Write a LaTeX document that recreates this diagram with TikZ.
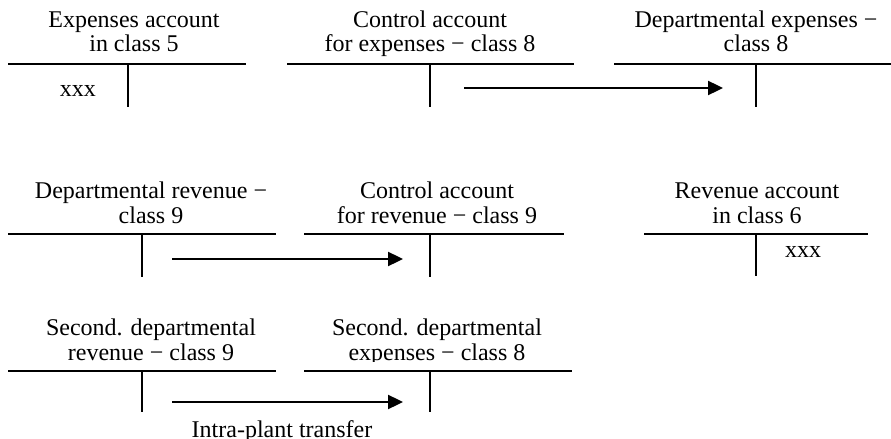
\documentclass[tikz,border=0pt]{standalone}
\usepackage{fontspec}
\setmainfont{Liberation Serif}
\usetikzlibrary{arrows.meta}
\begin{document}
\begin{tikzpicture}[x=0.5pt,y=-0.5pt,
  acc/.style={line width=0.95pt},
  flow/.style={line width=1.2pt,-{Triangle[length=7.5pt,width=7pt]}},
  lbl/.style={align=center,inner sep=0pt,anchor=base,font=\fontsize{12}{12.5}\selectfont},
  amt/.style={inner sep=0pt,anchor=base,font=\fontsize{12}{12.5}\selectfont}]
\useasboundingbox (0,0) rectangle (891,439);
% Row 1
\draw[acc] (8,64) -- (246,64); \draw[acc] (128,64) -- (128,107);
\node[lbl] (l1) at (134,52) {Expenses account\\in class 5};
\node[amt] (x1) at (78,97) {xxx};
\draw[acc] (287,64) -- (574,64); \draw[acc] (430,64) -- (430,107);
\node[lbl] (l2) at (430,52) {Control account\\for expenses − class 8};
\draw[acc] (614,64) -- (891,64); \draw[acc] (756,64) -- (756,107);
\node[lbl] (l3) at (756,52) {Departmental expenses −\\class 8};
\coordinate (a1s) at (464,88); \coordinate (a1e) at (723,88);
\draw[flow] (a1s) -- (a1e);
% Row 2
\draw[acc] (8,234) -- (276,234); \draw[acc] (142,234) -- (142,277);
\node[lbl] (l4) at (151,223) {Departmental revenue −\\class 9};
\draw[acc] (304,234) -- (564,234); \draw[acc] (430,234) -- (430,277);
\node[lbl] (l5) at (437,223) {Control account\\for revenue − class 9};
\coordinate (a2s) at (172,259); \coordinate (a2e) at (403,259);
\draw[flow] (a2s) -- (a2e);
\draw[acc] (644,234) -- (868,234); \draw[acc] (756,234) -- (756,276);
\node[lbl] (l6) at (757,223) {Revenue account\\in class 6};
\node[amt] (x6) at (803,257) {xxx};
% Row 3
\draw[acc] (8,371) -- (276,371); \draw[acc] (142,371) -- (142,412);
\node[lbl] (l7) at (151,360) {Second. departmental\\revenue − class 9};
\draw[acc] (304,371) -- (572,371); \draw[acc] (430,371) -- (430,412);
\begin{scope}
\clip (290,290) rectangle (600,361);
\node[lbl] (l8) at (437,360) {Second. departmental\\expenses − class 8};
\end{scope}
\coordinate (a3s) at (172,402); \coordinate (a3e) at (403,402);
\draw[flow] (a3s) -- (a3e);
\node[amt] (t3) at (282,437) {Intra-plant transfer};
\end{tikzpicture}
\end{document}
